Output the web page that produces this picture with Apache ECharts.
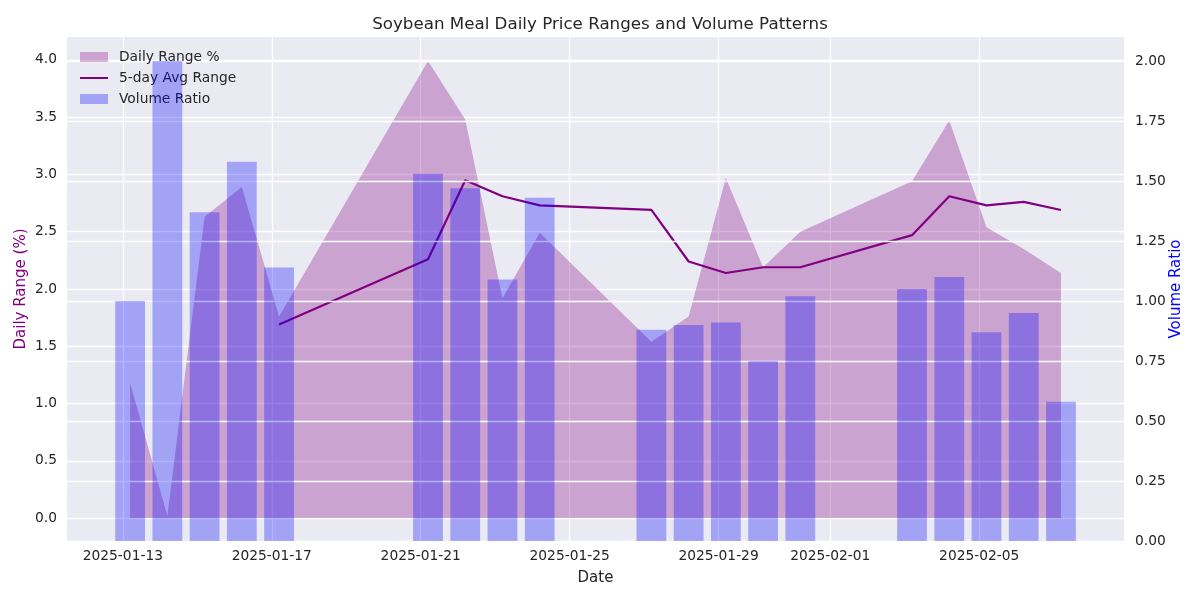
<!DOCTYPE html>
<html>
<head>
<meta charset="utf-8">
<script src="https://cdn.jsdelivr.net/npm/echarts@6/dist/echarts.min.js"></script>
<style>
html,body{margin:0;padding:0;background:#fff;}
#chart{width:1200px;height:600px;}
</style>
</head>
<body>
<div id="chart"></div>
<script>
// ---- data ----
const dates = ['2025-01-13','2025-01-14','2025-01-15','2025-01-16','2025-01-17',
  '2025-01-21','2025-01-22','2025-01-23','2025-01-24',
  '2025-01-27','2025-01-28','2025-01-29','2025-01-30','2025-01-31',
  '2025-02-03','2025-02-04','2025-02-05','2025-02-06','2025-02-07'];
const sampleTime = 'T04:42:00Z';
const dailyRange = [1.18, 0.02, 2.63, 2.89, 1.76, 3.99, 3.48, 1.92, 2.49, 1.54, 1.76, 2.97, 2.19, 2.50, 2.94, 3.47, 2.54, 2.35, 2.14];
const avgRange = [null, null, null, null, 1.69, 2.26, 2.95, 2.81, 2.73, 2.69, 2.24, 2.14, 2.19, 2.19, 2.47, 2.81, 2.73, 2.76, 2.69];
const volumeRatio = [1.00, 2.00, 1.37, 1.58, 1.14, 1.53, 1.47, 1.09, 1.43, 0.88, 0.90, 0.91, 0.75, 1.02, 1.05, 1.10, 0.87, 0.95, 0.58];
const xTickLabels = ['2025-01-13','2025-01-17','2025-01-21','2025-01-25','2025-01-29','2025-02-01','2025-02-05'];
const yLeftTicks = [0.0, 0.5, 1.0, 1.5, 2.0, 2.5, 3.0, 3.5, 4.0];
const yRightTicks = [0.00, 0.25, 0.50, 0.75, 1.00, 1.25, 1.50, 1.75, 2.00];
const xMinDate = '2025-01-11T12:00:00Z';
const xMaxDate = '2025-02-08T21:20:00Z';

// ---- build ----
const ts = d => Date.parse(d);
const times = dates.map(d => ts(d + sampleTime));
const rangeData = times.map((t, i) => [t, dailyRange[i]]);
const avgData = times.map((t, i) => [t, avgRange[i]]).filter(p => p[1] !== null);
const volData = times.map((t, i) => [t, volumeRatio[i]]);
const xTicks = xTickLabels.map(d => ts(d + 'T00:00:00Z'));
const xMin = ts(xMinDate), xMax = ts(xMaxDate);

const gridLeft = 67, gridRight = 76, W = 1200;
const dayMs = 86400000;
const pxPerDay = (W - gridLeft - gridRight) / ((xMax - xMin) / dayMs);

const FONT = 'DejaVu Sans';
const TXT = '#262626';
const pad = n => String(n).padStart(2, '0');
const fmtDate = v => { const d = new Date(v); return d.getUTCFullYear() + '-' + pad(d.getUTCMonth() + 1) + '-' + pad(d.getUTCDate()); };

const chart = echarts.init(document.getElementById('chart'), null, {renderer: 'canvas'});
chart.setOption({
  animation: false,
  backgroundColor: '#ffffff',
  textStyle: {fontFamily: FONT},
  title: {
    text: 'Soybean Meal Daily Price Ranges and Volume Patterns',
    left: 'center', top: 16, padding: 0,
    textStyle: {fontFamily: FONT, fontSize: 16.7, fontWeight: 'normal', color: TXT}
  },
  grid: {
    left: gridLeft, right: gridRight, top: 37, bottom: 59,
    show: true, backgroundColor: '#EAEAF2', borderWidth: 0
  },
  legend: {
    orient: 'vertical', left: 80, top: 50, padding: 0,
    itemWidth: 28, itemHeight: 10, itemGap: 7,
    textStyle: {fontFamily: FONT, fontSize: 13.8, color: TXT, padding: [0, 0, 0, 6]},
    data: [
      {name: 'Daily Range %', icon: 'rect', itemStyle: {color: 'rgba(128,0,128,0.3)'}},
      {name: '5-day Avg Range', icon: 'path://M0,0 H28 V2 H0 Z', itemStyle: {color: '#800080'}},
      {name: 'Volume Ratio', icon: 'rect', itemStyle: {color: 'rgba(0,0,255,0.3)'}}
    ]
  },
  xAxis: {
    type: 'value', min: xMin, max: xMax,
    name: 'Date', nameLocation: 'middle', nameGap: 30, nameMoveOverlap: false,
    nameTextStyle: {fontFamily: FONT, fontSize: 15, color: TXT},
    axisLine: {show: false},
    axisTick: {show: false, customValues: xTicks},
    axisLabel: {customValues: xTicks, formatter: fmtDate, margin: 8,
      fontFamily: FONT, fontSize: 13.8, color: TXT},
    splitLine: {show: true, lineStyle: {color: '#ffffff', width: 1.3}}
  },
  yAxis: [
    {
      type: 'value', min: -0.2, max: 4.2, position: 'left',
      name: 'Daily Range (%)', nameLocation: 'middle', nameGap: 38, nameRotate: 90, nameMoveOverlap: false,
      nameTextStyle: {fontFamily: FONT, fontSize: 15, color: '#800080'},
      axisLine: {show: false},
      axisTick: {show: false, customValues: yLeftTicks},
      axisLabel: {customValues: yLeftTicks, formatter: v => v.toFixed(1), margin: 10,
        fontFamily: FONT, fontSize: 13.8, color: TXT},
      splitLine: {show: true, lineStyle: {color: '#ffffff', width: 1.3}}
    },
    {
      type: 'value', min: 0, max: 2.1, position: 'right', z: 3,
      name: 'Volume Ratio', nameLocation: 'middle', nameGap: 45, nameRotate: 90, nameMoveOverlap: false,
      nameTextStyle: {fontFamily: FONT, fontSize: 15, color: '#0000ff'},
      axisLine: {show: false},
      axisTick: {show: false, customValues: yRightTicks},
      axisLabel: {customValues: yRightTicks, formatter: v => v.toFixed(2), margin: 11,
        fontFamily: FONT, fontSize: 13.8, color: TXT},
      splitLine: {show: true, lineStyle: {color: '#ffffff', width: 1.3}}
    }
  ],
  series: [
    {
      name: 'Daily Range %', type: 'line', xAxisIndex: 0, yAxisIndex: 0, z: 1,
      data: rangeData, showSymbol: false, symbol: 'none',
      lineStyle: {width: 0},
      itemStyle: {color: 'rgba(128,0,128,0.3)'},
      areaStyle: {color: 'rgba(128,0,128,0.3)', opacity: 1, origin: 0}
    },
    {
      name: '5-day Avg Range', type: 'line', xAxisIndex: 0, yAxisIndex: 0, z: 2,
      data: avgData, showSymbol: false, symbol: 'none',
      lineStyle: {color: '#800080', width: 2.2},
      itemStyle: {color: '#800080'}
    },
    {
      name: 'Volume Ratio', type: 'bar', xAxisIndex: 0, yAxisIndex: 1, z: 4,
      data: volData, barWidth: 0.8 * pxPerDay,
      itemStyle: {color: 'rgba(0,0,255,0.3)'}
    }
  ]
});
</script>
</body>
</html>
